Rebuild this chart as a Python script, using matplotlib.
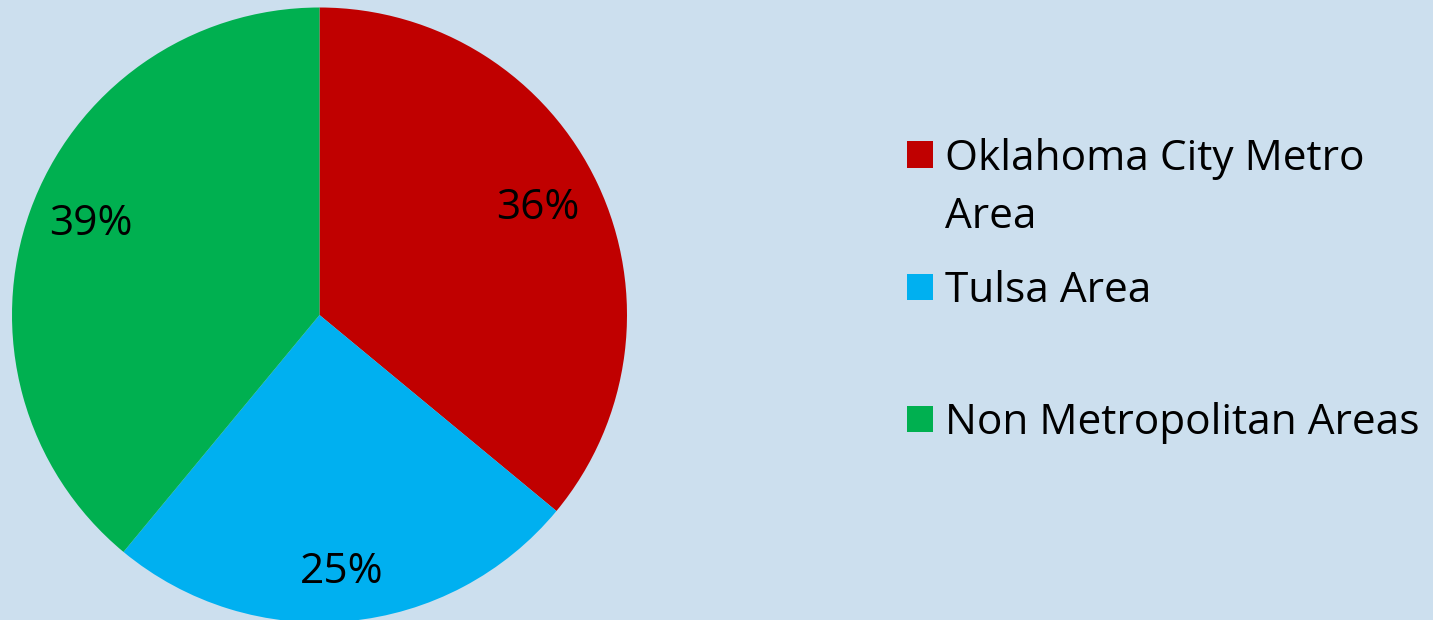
import matplotlib
matplotlib.use("Agg")
import matplotlib.pyplot as plt
from matplotlib.patches import Rectangle
import numpy as np

categories = ["Oklahoma City Metro\nArea", "Tulsa Area", "Non Metropolitan Areas"]
values = [36, 25, 39]
colors = ["#C00000", "#00B0F0", "#00B050"]

W, H = 1433, 620
bg = "#CCDFEE"
plt.rcParams['font.family'] = ['Open Sans', 'DejaVu Sans']

fig = plt.figure(figsize=(W / 100, H / 100), dpi=100)
fig.patch.set_facecolor(bg)

cx, cy, r = 319.5, 305.0, 307.5
ax = fig.add_axes([(cx - r) / W, (cy - r) / H, 2 * r / W, 2 * r / H])
ax.set_facecolor(bg)
wedges, texts, autotexts = ax.pie(
    values, colors=colors, startangle=90, counterclock=False,
    autopct=lambda p: f"{p:.0f}%", pctdistance=0.81, radius=1,
    textprops=dict(fontsize=30.5, color="black"))

# per-label radial distance / angular nudge (Excel best-fit placement)
label_dist = [0.79, 0.84, 0.80]
label_nudge = [1.0, -0.5, -1.8]
for w, t, d, n in zip(wedges, autotexts, label_dist, label_nudge):
    ang = np.deg2rad((w.theta1 + w.theta2) / 2 + n)
    t.set_position((d * np.cos(ang), d * np.sin(ang)))

ax.set_xlim(-1, 1)
ax.set_ylim(-1, 1)
ax.set_aspect('equal')
ax.axis('off')

# legend (manual layout in figure pixels)
sq = 26
square_y = [154.5, 286.5, 418.5]
for lab, col, yc in zip(categories, colors, square_y):
    fig.patches.append(Rectangle((907 / W, 1 - (yc + sq / 2) / H), sq / W, sq / H,
                                 transform=fig.transFigure, facecolor=col,
                                 edgecolor='none'))
    for i, ln in enumerate(lab.split("\n")):
        fig.text(945 / W, 1 - (yc - 1 + i * 59) / H, ln, fontsize=30.5,
                 va='center_baseline', ha='left')

fig.savefig("out.png", dpi=100, facecolor=bg)
